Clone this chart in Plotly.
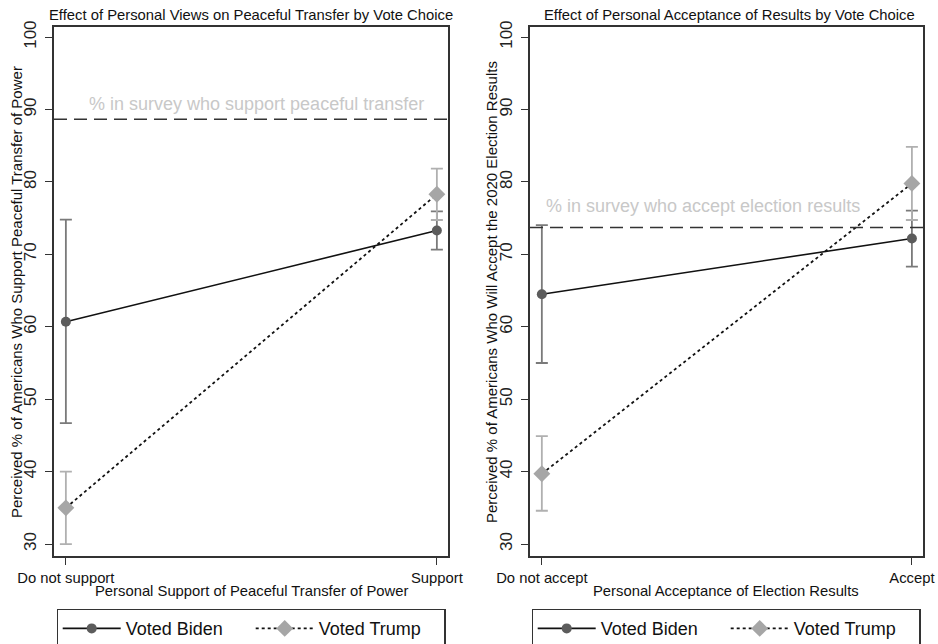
import plotly.graph_objects as go

# ---- data ----
left_categories = ["Do not support", "Support"]
left_biden = [60.7, 73.3]
left_biden_lo = [46.7, 70.65]
left_biden_hi = [74.8, 75.95]
left_trump = [35.0, 78.3]
left_trump_lo = [30.0, 74.75]
left_trump_hi = [40.0, 81.85]
left_reference = 88.65

right_categories = ["Do not accept", "Accept"]
right_biden = [64.5, 72.2]
right_biden_lo = [55.0, 68.3]
right_biden_hi = [74.05, 76.05]
right_trump = [39.7, 79.8]
right_trump_lo = [34.6, 74.75]
right_trump_hi = [44.9, 84.85]
right_reference = 73.7

y_ticks = [30, 40, 50, 60, 70, 80, 90, 100]

FONT = "Liberation Sans, Arial, Helvetica, sans-serif"
BIDEN_MARK = "#5c5c5c"
BIDEN_ERR = "#7a7a7a"
TRUMP_MARK = "#a6a6a6"
TRUMP_ERR = "#b0b0b0"

W, H = 938, 644
def px_x(p):
    return p / W
def px_y(p):
    return 1 - p / H

fig = go.Figure()

def add_series(cats, vals, lo, hi, name, xa, ya, legend, biden):
    plus = [h - v for h, v in zip(hi, vals)]
    minus = [v - l for v, l in zip(vals, lo)]
    fig.add_trace(go.Scatter(
        x=cats, y=vals, name=name, xaxis=xa, yaxis=ya, legend=legend,
        mode="lines+markers",
        line=dict(color="#111111", width=1.6 if biden else 1.8,
                  dash="solid" if biden else "dot"),
        marker=dict(symbol="circle" if biden else "diamond",
                    size=10 if biden else 13,
                    color=BIDEN_MARK if biden else TRUMP_MARK,
                    line=dict(width=0)),
        error_y=dict(type="data", symmetric=False, array=plus, arrayminus=minus,
                     color=BIDEN_ERR if biden else TRUMP_ERR,
                     thickness=1.8, width=6),
    ))

add_series(left_categories, left_biden, left_biden_lo, left_biden_hi, "Voted Biden", "x", "y", "legend", True)
add_series(left_categories, left_trump, left_trump_lo, left_trump_hi, "Voted Trump", "x", "y", "legend", False)
add_series(right_categories, right_biden, right_biden_lo, right_biden_hi, "Voted Biden", "x2", "y2", "legend2", True)
add_series(right_categories, right_trump, right_trump_lo, right_trump_hi, "Voted Trump", "x2", "y2", "legend2", False)

y_top = 27
y_bot = 556
ydom = [px_y(y_bot), px_y(y_top)]

def xaxis_cfg(dom, cats):
    return dict(domain=dom, type="category", categoryorder="array", categoryarray=cats,
                range=[-0.032, 1.03], showgrid=False, zeroline=False, automargin=False,
                showline=True, mirror=True, linecolor="#333333", linewidth=1.5,
                ticks="outside", ticklen=7, tickcolor="#333333", tickwidth=1,
                tickfont=dict(family=FONT, size=14.8, color="#111111"))

def yaxis_cfg(anchor):
    return dict(domain=ydom, anchor=anchor, range=[28.35, 101.4], tickvals=y_ticks,
                showgrid=False, zeroline=False, automargin=False,
                showline=True, mirror=True, linecolor="#333333", linewidth=1.5,
                ticks="outside", ticklen=7, tickcolor="#333333", tickwidth=1,
                tickangle=-90, ticklabelstandoff=2,
                tickfont=dict(family=FONT, size=17, color="#222222"))

legend_common = dict(orientation="h", xanchor="center", y=px_y(609), yanchor="top",
                     bordercolor="#333333", borderwidth=1.2, entrywidth=120, itemwidth=58,
                     font=dict(family=FONT, size=18, color="#111111"))

fig.update_layout(
    width=W, height=H,
    margin=dict(l=0, r=0, t=0, b=0, autoexpand=False),
    paper_bgcolor="white", plot_bgcolor="white",
    font=dict(family=FONT, color="#111111"),
    xaxis=dict(anchor="y", **xaxis_cfg([px_x(54), px_x(448)], left_categories)),
    yaxis=yaxis_cfg("x"),
    xaxis2=dict(anchor="y2", **xaxis_cfg([px_x(530), px_x(923)], right_categories)),
    yaxis2=yaxis_cfg("x2"),
    legend=dict(x=px_x(251), **legend_common),
    legend2=dict(x=px_x(726), **legend_common),
    showlegend=True,
)

# reference lines
fig.add_shape(type="line", xref="x domain", yref="y", x0=0, x1=1, y0=left_reference, y1=left_reference,
              line=dict(color="#333333", width=1.5, dash="13px,7px"))
fig.add_shape(type="line", xref="x2 domain", yref="y2", x0=0, x1=1, y0=right_reference, y1=right_reference,
              line=dict(color="#333333", width=1.5, dash="13px,7px"))

ann = []
ann.append(dict(text="% in survey who support peaceful transfer", xref="x domain", yref="y",
                x=0.515, y=90.8, xanchor="center", yanchor="middle", showarrow=False,
                font=dict(family=FONT, size=18, color="#c8c8c8")))
ann.append(dict(text="% in survey who accept election results", xref="x2 domain", yref="y2",
                x=0.44, y=76.7, xanchor="center", yanchor="middle", showarrow=False,
                font=dict(family=FONT, size=18, color="#c8c8c8")))
# titles
ann.append(dict(text="Effect of Personal Views on Peaceful Transfer by Vote Choice", xref="paper", yref="paper",
                x=px_x(251), y=px_y(15), xanchor="center", yanchor="middle", showarrow=False,
                font=dict(family=FONT, size=14.8, color="#111111")))
ann.append(dict(text="Effect of Personal Acceptance of Results by Vote Choice", xref="paper", yref="paper",
                x=px_x(729), y=px_y(15), xanchor="center", yanchor="middle", showarrow=False,
                font=dict(family=FONT, size=14.8, color="#111111")))
# axis titles
ann.append(dict(text="Personal Support of Peaceful Transfer of Power", xref="paper", yref="paper",
                x=px_x(251), y=px_y(591), xanchor="center", yanchor="middle", showarrow=False,
                font=dict(family=FONT, size=14.8, color="#111111")))
ann.append(dict(text="Personal Acceptance of Election Results", xref="paper", yref="paper",
                x=px_x(726), y=px_y(591), xanchor="center", yanchor="middle", showarrow=False,
                font=dict(family=FONT, size=14.8, color="#111111")))
ann.append(dict(text="Perceived % of Americans Who Support Peaceful Transfer of Power", xref="paper", yref="paper",
                x=px_x(16), y=px_y(292), xanchor="center", yanchor="middle", showarrow=False, textangle=-90,
                font=dict(family=FONT, size=15, color="#111111")))
ann.append(dict(text="Perceived % of Americans Who Will Accept the 2020 Election Results", xref="paper", yref="paper",
                x=px_x(491), y=px_y(292), xanchor="center", yanchor="middle", showarrow=False, textangle=-90,
                font=dict(family=FONT, size=15, color="#111111")))
fig.update_layout(annotations=ann)

fig.write_html("out.html", config={"displayModeBar": False},
               post_script="document.body.style.margin='0px';")
